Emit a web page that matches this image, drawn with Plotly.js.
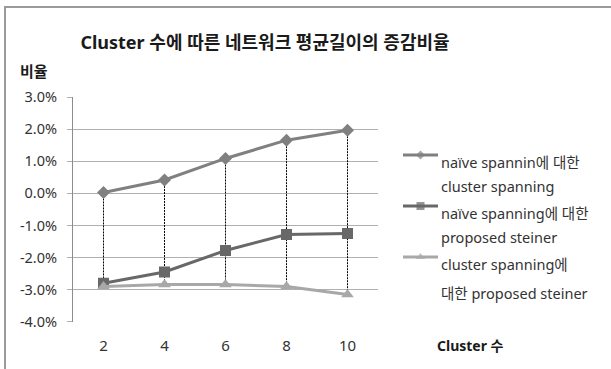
<!DOCTYPE html>
<html>
<head>
<meta charset="utf-8">
<script src="https://cdn.plot.ly/plotly-3.0.1.min.js"></script>
<style>
  html, body { margin: 0; padding: 0; background: #ffffff; }
  #chart { width: 611px; height: 369px; }
</style>
</head>
<body>
<div id="chart"></div>
<script>
// Cluster count on the x axis
const clusters = ['2', '4', '6', '8', '10'];

// Change ratio of average network length (%)
const naiveVsCluster   = [0.03, 0.42, 1.09, 1.66, 1.97];
const naiveVsSteiner   = [-2.80, -2.45, -1.78, -1.28, -1.25];
const clusterVsSteiner = [-2.90, -2.84, -2.84, -2.90, -3.15];

// Legend text, one entry per line
const legendLines = [
  ['naïve spannin에 대한', 'cluster spanning'],
  ['naïve spanning에 대한', 'proposed steiner'],
  ['cluster spanning에', '대한 proposed steiner']
];

// Y axis ticks
const yTickVals = [-4, -3, -2, -1, 0, 1, 2, 3];
const yTickText = ['-4.0%', '-3.0%', '-2.0%', '-1.0%', '0.0%', '1.0%', '2.0%', '3.0%'];

const chartTitle = 'Cluster 수에 따른 네트워크 평균길이의 증감비율';
const yTitle = '비율';
const xTitle = 'Cluster 수';

// ---- page geometry helpers (pixel -> paper) ----
const W = 611, H = 369;
const px = x => x / W;
const py = y => 1 - y / H;

const FONT = '"Noto Sans", "Noto Sans CJK KR", sans-serif';
const TITLE_FONT = '"Noto Sans CJK KR", "Noto Sans", sans-serif';

const series = [
  { y: naiveVsCluster,   color: '#808080', symbol: 'diamond',     size: 10, lsize: 7 },
  { y: naiveVsSteiner,   color: '#686868', symbol: 'square',      size: 11, lsize: 8 },
  { y: clusterVsSteiner, color: '#a8a8a8', symbol: 'triangle-up', size: 11, lsize: 8 }
];

const traces = [];

// Drop lines from the highest to the lowest value at each cluster count
clusters.forEach((c, i) => {
  const vals = series.map(s => s.y[i]);
  traces.push({
    x: [c, c],
    y: [Math.max(...vals), Math.min(...vals)],
    mode: 'lines',
    line: { color: '#000000', width: 1, dash: '2px,1px' },
    hoverinfo: 'skip',
    showlegend: false
  });
});

// The three series
series.forEach((s, k) => {
  traces.push({
    x: clusters,
    y: s.y,
    mode: 'lines+markers',
    name: legendLines[k].join(' '),
    line: { color: s.color, width: 3 },
    marker: { color: s.color, symbol: s.symbol, size: s.size, line: { width: 0 } },
    showlegend: false
  });
});

// Legend keys drawn on a page-sized pixel axis
const keyY = [155, 206, 257];
series.forEach((s, k) => {
  traces.push({
    x: [403, 420.5, 438],
    y: [keyY[k], keyY[k], keyY[k]],
    xaxis: 'x2', yaxis: 'y2',
    mode: 'lines+markers',
    line: { color: s.color, width: 3 },
    marker: { color: s.color, symbol: s.symbol, size: [0, s.lsize, 0], line: { width: 0 } },
    hoverinfo: 'skip',
    showlegend: false
  });
});

const legendTextY = [[162, 186], [213, 237], [264, 293]];
const annotations = [];
legendLines.forEach((lines, k) => {
  lines.forEach((t, j) => {
    annotations.push({
      xref: 'paper', yref: 'paper',
      x: px(439), y: py(legendTextY[k][j]),
      xanchor: 'left', yanchor: 'middle',
      text: t, showarrow: false,
      font: { family: FONT, size: 14.5, color: '#333333' }
    });
  });
});

annotations.push({
  xref: 'paper', yref: 'paper',
  x: px(18), y: py(70), xanchor: 'left', yanchor: 'middle',
  text: '<b>' + yTitle + '</b>', showarrow: false,
  font: { family: TITLE_FONT, size: 15, color: '#1a1a1a' }
});
annotations.push({
  xref: 'paper', yref: 'paper',
  x: px(435), y: py(345), xanchor: 'left', yanchor: 'middle',
  text: '<b>' + xTitle + '</b>', showarrow: false,
  font: { family: FONT, size: 14, color: '#1a1a1a' }
});

const layout = {
  width: W, height: H,
  margin: { l: 0, r: 0, t: 0, b: 0 },
  paper_bgcolor: '#ffffff',
  plot_bgcolor: 'rgba(0,0,0,0)',
  showlegend: false,
  title: {
    text: '<b>' + chartTitle + '</b>',
    x: px(265), y: py(43), xanchor: 'center', yanchor: 'middle',
    xref: 'paper', yref: 'paper',
    font: { family: FONT, size: 18, color: '#1a1a1a' }
  },
  xaxis: {
    type: 'category',
    categoryorder: 'array', categoryarray: clusters,
    range: [-0.5, clusters.length - 0.5],
    domain: [px(73), px(378)],
    anchor: 'y',
    showgrid: false, zeroline: false, showline: false,
    ticks: '', ticklabelstandoff: 13,
    tickfont: { family: FONT, size: 15, color: '#333333' },
    fixedrange: true
  },
  yaxis: {
    range: [-4, 3],
    domain: [py(321.7), py(97.2)],
    anchor: 'x',
    tickvals: yTickVals, ticktext: yTickText,
    showgrid: true, gridcolor: '#b0b0b0', gridwidth: 1,
    zeroline: false,
    showline: true, linecolor: '#8c8c8c', linewidth: 1,
    ticks: 'outside', ticklen: 5, tickcolor: '#b0b0b0',
    ticklabelstandoff: 7,
    tickfont: { family: FONT, size: 14.5, color: '#333333' },
    fixedrange: true
  },
  xaxis2: { domain: [0, 1], range: [0, W], anchor: 'y2', visible: false, fixedrange: true },
  yaxis2: { domain: [0, 1], range: [H, 0], anchor: 'x2', visible: false, fixedrange: true },
  shapes: [{
    type: 'rect', xref: 'paper', yref: 'paper',
    x0: px(5), x1: px(640), y0: py(7), y1: py(400),
    line: { color: '#9a9a9a', width: 2 },
    fillcolor: 'rgba(0,0,0,0)', layer: 'below'
  }],
  annotations: annotations
};

Plotly.newPlot('chart', traces, layout, { staticPlot: true, displayModeBar: false });
</script>
</body>
</html>
